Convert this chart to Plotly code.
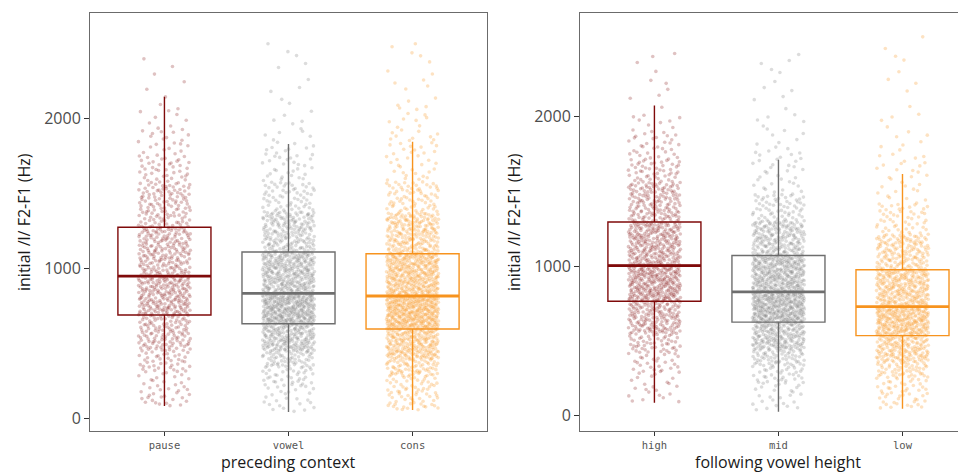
import numpy as np
import plotly.graph_objects as go

# ---------------- data ----------------
left_categories = ["pause", "vowel", "cons"]
left_lowerfence = [85, 45, 58]
left_q1 = [691, 633, 598]
left_median = [951, 836, 818]
left_q3 = [1276, 1111, 1100]
left_upperfence = [2147, 1831, 1847]
left_counts = [800, 1200, 1400]

right_categories = ["high", "mid", "low"]
right_lowerfence = [87, 27, 47]
right_q1 = [765, 625, 535]
right_median = [1003, 827, 729]
right_q3 = [1294, 1070, 975]
right_upperfence = [2072, 1710, 1615]
right_counts = [1000, 1200, 1000]

# estimated quantiles of the jittered point clouds (values at QUANTILE_PROBS)
QUANTILE_PROBS = [0.0, 0.01, 0.02, 0.05, 0.10, 0.25, 0.50, 0.75, 0.90, 0.95, 0.98, 0.99, 1.0]
left_point_quantiles = [
    [85, 130, 170, 316, 456, 691, 951, 1276, 1569, 1744, 1941, 2080, 2450],
    [45, 136, 218, 341, 450, 633, 836, 1111, 1380, 1580, 1820, 2000, 2580],
    [58, 100, 150, 282, 400, 598, 818, 1100, 1370, 1580, 1900, 2100, 2540],
]
right_point_quantiles = [
    [87, 180, 278, 422, 551, 765, 1003, 1294, 1556, 1714, 1890, 2010, 2446],
    [27, 130, 211, 334, 443, 625, 827, 1070, 1300, 1480, 1780, 2000, 2440],
    [47, 90, 138, 255, 360, 535, 729, 975, 1210, 1420, 1760, 2000, 2565],
]

colors = ["#7f0a0a", "#6e6e6e", "#f7931e"]
point_colors = ["rgba(127,10,10,0.25)", "rgba(110,110,110,0.24)", "rgba(247,147,30,0.27)"]

# page body has an 8px margin: the figure is placed 8px in from the top-left
OFF = 8
W, H = 966 - OFF, 474 - OFF
def fx(p):
    return (p - OFF) / W
def fy(p):
    return 1 - (p - OFF) / H

fig = go.Figure()

def halton(k, base):
    out = np.zeros(len(k))
    f = 1.0
    kk = k.copy()
    while np.any(kk > 0):
        f /= base
        out += f * (kk % base)
        kk //= base
    return out

def cloud(qvals, n, shift):
    # deterministic low-discrepancy spread over the read quantiles
    k = np.arange(1, n + 1) + shift
    p = halton(k, 3)
    u = halton(k, 2)
    y = np.interp(p, QUANTILE_PROBS, qvals)
    return u, y

def add_panel(cats, lf, q1, med, q3, uf, counts, pq, xa, ya, shift0):
    for i in range(len(cats)):
        u, y = cloud(pq[i], counts[i], shift0 + 137 * i)
        fig.add_trace(go.Scatter(
            x=i + (u * 2 - 1) * 0.21, y=y, mode="markers",
            marker=dict(size=3.6, color=point_colors[i], line=dict(width=0)),
            xaxis=xa, yaxis=ya, showlegend=False, hoverinfo="skip"))
    for i in range(len(cats)):
        fig.add_trace(go.Box(
            x=[i], q1=[q1[i]], median=[med[i]], q3=[q3[i]],
            lowerfence=[lf[i]], upperfence=[uf[i]],
            width=0.75, whiskerwidth=0, boxpoints=False,
            fillcolor="rgba(0,0,0,0)", line=dict(color=colors[i], width=1.4),
            xaxis=xa, yaxis=ya, showlegend=False))
        fig.add_trace(go.Scatter(
            x=[i - 0.375, i + 0.375], y=[med[i], med[i]], mode="lines",
            line=dict(color=colors[i], width=2.8),
            xaxis=xa, yaxis=ya, showlegend=False, hoverinfo="skip"))

add_panel(left_categories, left_lowerfence, left_q1, left_median, left_q3,
          left_upperfence, left_counts, left_point_quantiles, "x", "y", 11)
add_panel(right_categories, right_lowerfence, right_q1, right_median, right_q3,
          right_upperfence, right_counts, right_point_quantiles, "x2", "y2", 5000)

ydom = [fy(431), fy(13)]
axis_common = dict(showgrid=False, zeroline=False, showline=True, linecolor="#6b6b6b",
                   linewidth=1, ticks="outside", tickcolor="#333333")
xtick_font = dict(family="DejaVu Sans Mono", size=10.5, color="#555555")
ytick_font = dict(family="Open Sans", size=16, color="#4d4d4d")
title_color = "#1a1a1a"

fig.update_layout(
    width=W, height=H, margin=dict(l=0, r=0, t=0, b=0),
    plot_bgcolor="white", paper_bgcolor="white",
    xaxis=dict(domain=[fx(90), fx(487)], range=[-0.6, 2.6], tickvals=[0, 1, 2], ticklen=4,
               ticktext=left_categories, mirror=True, tickfont=xtick_font, **axis_common),
    yaxis=dict(domain=ydom, range=[-82, 2705], tickvals=[0, 1000, 2000], mirror=True,
               ticklen=5, tickfont=ytick_font, **axis_common),
    xaxis2=dict(domain=[fx(580), 1.0], range=[-0.6, 2.512], tickvals=[0, 1, 2], ticklen=4,
                ticktext=right_categories, mirror=True, tickfont=xtick_font,
                anchor="y2", **axis_common),
    yaxis2=dict(domain=ydom, range=[-102, 2690], tickvals=[0, 1000, 2000], mirror=False,
                ticklen=5, tickfont=ytick_font, anchor="x2", **axis_common),
    annotations=[
        dict(text="preceding context", x=fx((90 + 487) / 2), y=0,
             xref="paper", yref="paper", showarrow=False, xanchor="center", yanchor="bottom",
             borderpad=0, font=dict(family="Open Sans", size=16, color=title_color)),
        dict(text="following vowel height", x=fx((580 + 976) / 2), y=0,
             xref="paper", yref="paper", showarrow=False, xanchor="center", yanchor="bottom",
             borderpad=0, font=dict(family="Open Sans", size=16, color=title_color)),
        dict(text="initial /l/ F2-F1 (Hz)", x=fx(24), y=fy(222), textangle=-90,
             xref="paper", yref="paper", showarrow=False, xanchor="center", yanchor="middle",
             font=dict(family="Open Sans", size=16, color=title_color)),
        dict(text="initial /l/ F2-F1 (Hz)", x=fx(514), y=fy(222), textangle=-90,
             xref="paper", yref="paper", showarrow=False, xanchor="center", yanchor="middle",
             font=dict(family="Open Sans", size=16, color=title_color)),
    ],
)

fig.write_html("out.html")
